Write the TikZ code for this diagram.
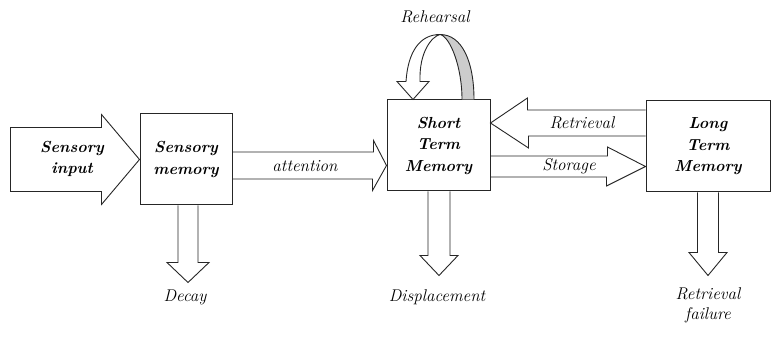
\documentclass[tikz,border=0pt]{standalone}
\usepackage{fontspec}
\usetikzlibrary{positioning}

\begin{document}
\begin{tikzpicture}[x=1pt, y=1pt,
storenode/.style={rectangle, draw=black!85, line width=1pt, inner sep=0pt, align=center, minimum height=91pt, font=\fontsize{16}{21.5}\selectfont\bfseries\itshape},
flowlabel/.style={inner sep=0pt, align=center, font=\fontsize{17}{20}\selectfont\itshape},
hollow/.style={draw=black!85, line width=0.9pt, line join=miter},
backside/.style={fill=gray!40},
]
\useasboundingbox (0,0) rectangle (772,337);

%Nodes
\node[storenode, minimum width=92pt]  (smem) at (186,177.5)  {Sensory\\memory};
\node[storenode, minimum width=103pt] (stm)  at (438.5,191.5) {Short\\Term\\Memory};
\node[storenode, minimum width=124pt] (ltm)  at (708,190.5)  {Long\\Term\\Memory};
\coordinate (apex) at ([shift={(1.5,65)}]stm.north);

\node[flowlabel, font=\fontsize{16}{21.5}\selectfont\bfseries\itshape] (input) at (72,178) {Sensory\\input};
\node[flowlabel] (att)   at (305,171) {attention};
\node[flowlabel] (retr)  at (582,214) {Retrieval};
\node[flowlabel] (stor)  at (569,170.5) {Storage};
\node[flowlabel] (reh)   at (435,320) {Rehearsal};
\node[flowlabel] (decay) at (185,40) {Decay};
\node[flowlabel] (displ) at (437,40) {Displacement};
\node[flowlabel] (fail)  at (708,32) {Retrieval\\failure};

%Lines
\draw[hollow] (smem.west) -- ++(-38,45) -- ++(0,-13) -- ++(-91,0) -- ++(0,-64) -- ++(91,0) -- ++(0,-13) -- cycle;
\draw[hollow] ([yshift=7.5pt]smem.east) -- ++(141,0) -- ++(0,11.5) -- ([yshift=-20pt]stm.west) -- ++(-14,-25) -- ++(0,11.5) -- ([yshift=-19.5pt]smem.east);
\draw[hollow] ([yshift=36.5pt]ltm.west) -- ++(-118,0) -- ++(0,12) -- ([yshift=22.5pt]stm.east) -- ++(38,-25) -- ++(0,12) -- ([yshift=10.5pt]ltm.west);
\draw[hollow] ([yshift=-10.5pt]stm.east) -- ++(117,0) -- ++(0,9) -- ([yshift=-20pt]ltm.west) -- ++(-39,-19.5) -- ++(0,9) -- ([yshift=-31.5pt]stm.east);
\draw[hollow] ([xshift=-8pt]smem.south) -- ++(0,-57) -- ++(-11,0) -- ++(21,-20) -- ++(21,20) -- ++(-11,0) -- ([xshift=12pt]smem.south);
\draw[hollow] ([xshift=-10.5pt]stm.south) -- ++(0,-64) -- ++(-8,0) -- ++(19,-20) -- ++(19,20) -- ++(-8,0) -- ([xshift=11.5pt]stm.south);
\draw[hollow] ([xshift=-10.5pt]ltm.south) -- ++(0,-60) -- ++(-8.5,0) -- ++(19,-23) -- ++(19,23) -- ++(-8.5,0) -- ([xshift=10.5pt]ltm.south);

%Rehearsal loop
\fill[backside] ([xshift=35.5pt]stm.north) .. controls +(0,38) and +(22,0) .. (apex) .. controls +(10,-2) and +(0,33) .. ([xshift=23.5pt]stm.north) -- cycle;
\draw[hollow] ([xshift=35.5pt]stm.north) .. controls +(0,38) and +(22,0) .. (apex)
  .. controls +(-20,0) and +(2,30) .. ([shift={(-32.5,18)}]stm.north)
  -- ++(-9,0) -- ([xshift=-25.5pt]stm.north) -- ++(16,18) -- ++(-9,0)
  .. controls +(-1,30) and +(-8,-2) .. (apex)
  .. controls +(10,-2) and +(0,33) .. ([xshift=23.5pt]stm.north);
\end{tikzpicture}
\end{document}
